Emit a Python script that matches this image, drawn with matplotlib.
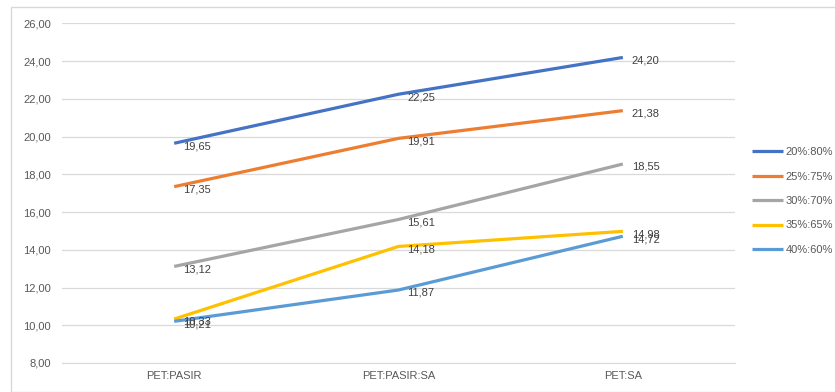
import matplotlib
matplotlib.use("Agg")
import matplotlib.pyplot as plt
from matplotlib.patches import Rectangle

categories = ["PET:PASIR", "PET:PASIR:SA", "PET:SA"]
series_names = ["20%:80%", "25%:75%", "30%:70%", "35%:65%", "40%:60%"]
s20 = [19.65, 22.25, 24.20]
s25 = [17.35, 19.91, 21.38]
s30 = [13.12, 15.61, 18.55]
s35 = [10.33, 14.18, 14.98]
s40 = [10.21, 11.87, 14.72]
series_values = [s20, s25, s30, s35, s40]
colors = ["#4472C4", "#ED7D31", "#A5A5A5", "#FFC000", "#5B9BD5"]
yticks = [8, 10, 12, 14, 16, 18, 20, 22, 24, 26]

plt.rcParams['font.family'] = ['Liberation Sans', 'DejaVu Sans']

fig = plt.figure(figsize=(8.35, 3.92), dpi=100)
ax = fig.add_axes([62/835, 1-363/392, (735-62)/835, (363-23.5)/392])

x = list(range(len(categories)))
for name, vals, c in zip(series_names, series_values, colors):
    ax.plot(x, vals, color=c, lw=2.3, label=name, solid_capstyle='butt')
    for xi, v in zip(x, vals):
        ax.annotate(f"{v:.2f}".replace(".", ","), (xi, v), xytext=(6.5, -2),
                    textcoords='offset points', ha='left', va='center',
                    fontsize=8, color='#404040')

ax.set_xlim(-0.5, 2.5)
ax.set_ylim(8, 26)
ax.set_yticks(yticks)
ax.set_yticklabels([f"{t:.2f}".replace(".", ",") for t in yticks])
ax.set_xticks(x)
ax.set_xticklabels(categories)
ax.tick_params(axis='both', length=0, labelsize=8, colors='#595959')
ax.tick_params(axis='y', pad=8)
ax.tick_params(axis='x', pad=6)
ax.grid(axis='y', color='#D9D9D9', lw=0.9)
ax.set_axisbelow(True)
for s in ['left', 'right', 'top']:
    ax.spines[s].set_visible(False)
ax.spines['bottom'].set_color('#D9D9D9')

leg = fig.legend(loc='center left', bbox_to_anchor=(752/835, 1-201/392), frameon=False,
                 fontsize=8, handlelength=2.8, labelspacing=1.3, handletextpad=0.2,
                 borderpad=0, borderaxespad=0)
for t in leg.get_texts():
    t.set_color('#595959')

fig.patches.append(Rectangle((11/835, 0), 1, 1-7/392, transform=fig.transFigure,
                             fill=False, edgecolor='#D9D9D9', lw=1))

fig.savefig("out.png", dpi=100)
